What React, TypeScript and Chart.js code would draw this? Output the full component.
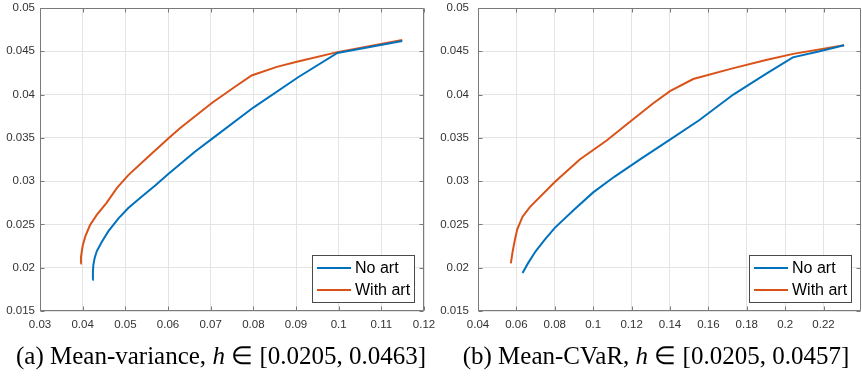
import React, { useEffect, useRef } from 'react';
import { Chart, registerables } from 'chart.js';

Chart.register(...registerables);

// ---------- data ----------
const seriesNames = ['No art', 'With art'];
const seriesColors = ['#0072BD', '#D95319'];

// (a) Mean-variance
const mvNoArtX = [0.0423, 0.0424, 0.0425, 0.0428, 0.0433, 0.0445, 0.0460, 0.0484, 0.0507, 0.0538, 0.0570, 0.0600, 0.0663, 0.0706, 0.0800, 0.0905, 0.0997, 0.1149];
const mvNoArtY = [0.0186, 0.0195, 0.0203, 0.0211, 0.0219, 0.0230, 0.0242, 0.0257, 0.0269, 0.0282, 0.0295, 0.0308, 0.0334, 0.0350, 0.0385, 0.0420, 0.0448, 0.0462];
const mvArtX = [0.0395, 0.0396, 0.0398, 0.0400, 0.0406, 0.0417, 0.0433, 0.0456, 0.0480, 0.0507, 0.0553, 0.0600, 0.0628, 0.0702, 0.0757, 0.0796, 0.0855, 0.0902, 0.0997, 0.1149];
const mvArtY = [0.0205, 0.0212, 0.0219, 0.0225, 0.0236, 0.0249, 0.0261, 0.0275, 0.0292, 0.0307, 0.0328, 0.0349, 0.0361, 0.0390, 0.0409, 0.0422, 0.0432, 0.0438, 0.0449, 0.0463];

// (b) Mean-CVaR
const cvNoArtX = [0.0632, 0.0660, 0.0700, 0.0750, 0.0800, 0.0900, 0.1000, 0.1110, 0.1250, 0.1400, 0.1550, 0.1730, 0.1900, 0.2040, 0.2180, 0.2307];
const cvNoArtY = [0.0194, 0.0205, 0.0219, 0.0233, 0.0246, 0.0267, 0.0287, 0.0305, 0.0326, 0.0348, 0.0370, 0.0400, 0.0424, 0.0443, 0.0450, 0.0457];
const cvArtX = [0.0571, 0.0580, 0.0590, 0.0604, 0.0632, 0.0670, 0.0800, 0.0930, 0.1070, 0.1200, 0.1313, 0.1400, 0.1521, 0.1721, 0.1900, 0.2042, 0.2307];
const cvArtY = [0.0205, 0.0218, 0.0230, 0.0244, 0.0259, 0.0270, 0.0299, 0.0325, 0.0347, 0.0370, 0.0390, 0.0404, 0.0418, 0.0430, 0.0440, 0.0447, 0.0457];

// ticks
const mvXTicks = [0.03, 0.04, 0.05, 0.06, 0.07, 0.08, 0.09, 0.1, 0.11, 0.12];
const cvXTicks = [0.04, 0.06, 0.08, 0.1, 0.12, 0.14, 0.16, 0.18, 0.2, 0.22];
const yTicks = [0.015, 0.02, 0.025, 0.03, 0.035, 0.04, 0.045, 0.05];
const mvXRange = [0.03, 0.12];
const cvXRange = [0.04, 0.2395];
const yRange = [0.015, 0.05];

// ---------- styles ----------
const W = 862;
const H = 376;
const PLOT_TOP = 8;
const PLOT_BOTTOM = 311;
const AXIS_COLOR = '#7a7a7a';
const GRID_COLOR = '#e4e4e4';
const TICK_TEXT = '#333333';

const fmt = (v: number) => String(parseFloat(Number(v).toFixed(4)));
const toPts = (xs: number[], ys: number[]) => xs.map((x, i) => ({ x, y: ys[i] }));

const boxPlugin = {
  id: 'matlabBox',
  afterDraw(chart: any, _args: any, opts: any) {
    const { ctx, chartArea: a, scales } = chart;
    const L = Math.round(a.left) + 0.5;
    const R = Math.round(a.right) - 0.5;
    const T = Math.round(a.top) + 0.5;
    const B = Math.round(a.bottom) - 0.5;
    ctx.save();
    ctx.strokeStyle = AXIS_COLOR;
    ctx.lineWidth = 1;
    ctx.beginPath();
    ctx.moveTo(L, T); ctx.lineTo(R, T); ctx.lineTo(R, B); ctx.lineTo(L, B); ctx.closePath();
    const tl = 4;
    scales.x.ticks.forEach((t: any) => {
      const px = Math.round(scales.x.getPixelForValue(t.value)) + 0.5;
      ctx.moveTo(px, B); ctx.lineTo(px, B - tl);
      ctx.moveTo(px, T); ctx.lineTo(px, T + tl);
    });
    scales.y.ticks.forEach((t: any) => {
      const py = Math.round(scales.y.getPixelForValue(t.value)) + 0.5;
      ctx.moveTo(L, py); ctx.lineTo(L + tl, py);
      ctx.moveTo(R, py); ctx.lineTo(R - tl, py);
    });
    ctx.stroke();

    // legend (south-east)
    const lw = 102, lh = 47;
    const lx = Math.round(a.right) - 10 - lw;
    const ly = Math.round(a.bottom) - 9 - lh;
    ctx.fillStyle = '#ffffff';
    ctx.fillRect(lx, ly, lw, lh);
    ctx.strokeStyle = '#4a4a4a';
    ctx.strokeRect(lx + 0.5, ly + 0.5, lw, lh);
    ctx.font = '16px "Liberation Sans", Arial, sans-serif';
    ctx.textBaseline = 'middle';
    ctx.textAlign = 'left';
    (opts.names || []).forEach((n: string, i: number) => {
      const yy = ly + 13 + i * 22;
      ctx.strokeStyle = opts.colors[i];
      ctx.lineWidth = 2;
      ctx.beginPath();
      ctx.moveTo(lx + 5, yy); ctx.lineTo(lx + 39, yy);
      ctx.stroke();
      ctx.fillStyle = '#000000';
      ctx.fillText(n, lx + 43, yy + 1);
    });
    ctx.restore();
  },
};

function makeConfig(
  noArt: any,
  art: any,
  xRange: number[],
  xTicks: number[],
  plotLeft: number,
  plotRight: number,
  yPad: number,
): any {
  return {
    type: 'line',
    data: {
      datasets: [
        { label: seriesNames[0], data: noArt, borderColor: seriesColors[0], borderWidth: 2, pointRadius: 0, tension: 0, fill: false },
        { label: seriesNames[1], data: art, borderColor: seriesColors[1], borderWidth: 2, pointRadius: 0, tension: 0, fill: false },
      ],
    },
    options: {
      responsive: false,
      animation: false,
      events: [],
      layout: { padding: { left: 0, right: W - plotRight, top: PLOT_TOP, bottom: 0 } },
      plugins: {
        legend: { display: false },
        tooltip: { enabled: false },
        matlabBox: { names: seriesNames, colors: seriesColors },
      },
      scales: {
        x: {
          type: 'linear',
          min: xRange[0],
          max: xRange[1],
          afterBuildTicks: (s: any) => { s.ticks = xTicks.map((v) => ({ value: v })); },
          afterFit: (s: any) => {
            s.height = H - PLOT_BOTTOM;
            s.paddingLeft = 0; s.paddingRight = 0; s.paddingTop = 0; s.paddingBottom = 0;
          },
          grid: { color: GRID_COLOR, drawTicks: false, lineWidth: 1 },
          border: { display: false },
          ticks: {
            padding: 7,
            maxRotation: 0,
            autoSkip: false,
            color: TICK_TEXT,
            font: { family: '"Liberation Sans", Arial, sans-serif', size: 11.5 },
            callback: (v: any) => fmt(v),
          },
        },
        y: {
          type: 'linear',
          min: yRange[0],
          max: yRange[1],
          afterBuildTicks: (s: any) => { s.ticks = yTicks.map((v) => ({ value: v })); },
          afterFit: (s: any) => {
            s.width = plotLeft;
            s.paddingLeft = 0; s.paddingRight = 0; s.paddingTop = 0; s.paddingBottom = 0;
          },
          grid: { color: GRID_COLOR, drawTicks: false, lineWidth: 1 },
          border: { display: false },
          ticks: {
            padding: yPad,
            autoSkip: false,
            color: TICK_TEXT,
            font: { family: '"Liberation Sans", Arial, sans-serif', size: 11.5 },
            callback: (v: any) => fmt(v),
          },
        },
      },
    },
    plugins: [boxPlugin],
  };
}

function ChartCanvas({ config }: { config: any }) {
  const ref = useRef<HTMLCanvasElement | null>(null);
  useEffect(() => {
    if (!ref.current) return;
    const c = new Chart(ref.current, config);
    return () => c.destroy();
  }, [config]);
  return (
    <canvas
      ref={ref}
      width={W}
      height={H}
      style={{ position: 'absolute', left: 0, top: 0, width: W, height: H }}
    />
  );
}

const cfgA = makeConfig(toPts(mvNoArtX, mvNoArtY), toPts(mvArtX, mvArtY), mvXRange, mvXTicks, 40, 424, 5);
const cfgB = makeConfig(toPts(cvNoArtX, cvNoArtY), toPts(cvArtX, cvArtY), cvXRange, cvXTicks, 478, 861, 9);

const capStyle: React.CSSProperties = {
  position: 'absolute',
  top: 341,
  width: 460,
  textAlign: 'center',
  fontFamily: '"Liberation Serif", "Times New Roman", serif',
  fontSize: 25,
  color: '#000',
  whiteSpace: 'nowrap',
  lineHeight: '30px',
};

export default function App() {
  return (
    <div style={{ position: 'absolute', left: 0, top: 0, width: W, height: H, background: '#fff', overflow: 'hidden' }}>
      <ChartCanvas config={cfgA} />
      <ChartCanvas config={cfgB} />
      <div style={{ ...capStyle, left: 221 - 230 }}>
        (a) Mean-variance, <i>h</i> ∈ [0.0205, 0.0463]
      </div>
      <div style={{ ...capStyle, left: 656 - 230 }}>
        (b) Mean-CVaR, <i>h</i> ∈ [0.0205, 0.0457]
      </div>
    </div>
  );
}
